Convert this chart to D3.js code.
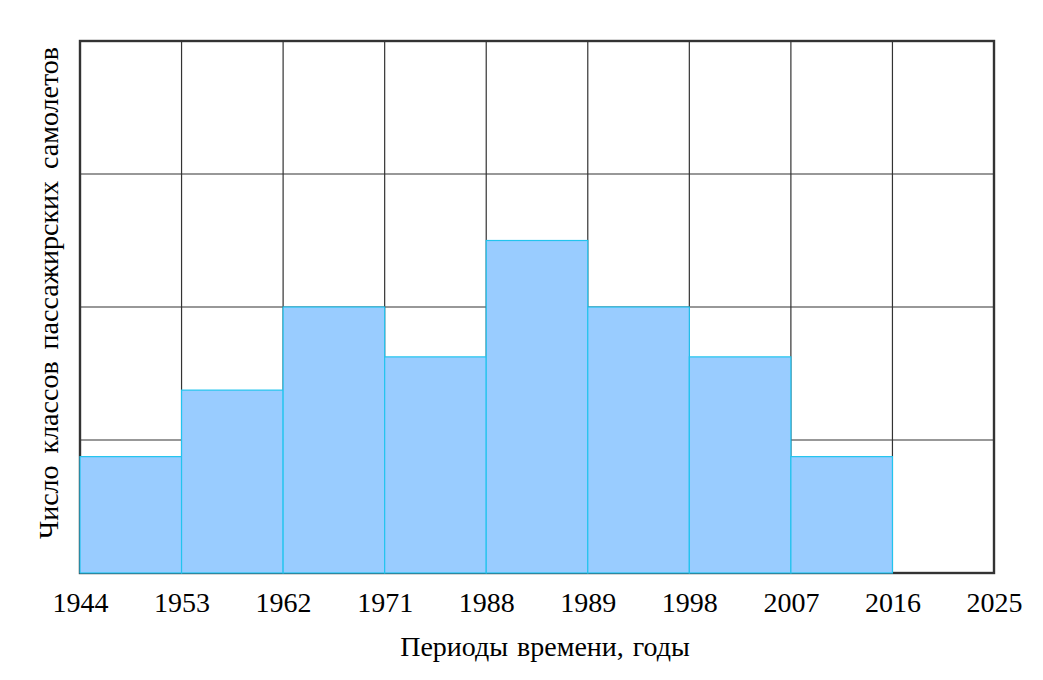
<!DOCTYPE html>
<html><head><meta charset="utf-8">
<script src="https://cdn.jsdelivr.net/npm/d3@7"></script>
<style>body{margin:0;background:#fff;} text{font-family:"Liberation Serif","Times New Roman",serif;fill:#000;}</style>
</head><body>
<svg id="c" width="1043" height="680"></svg>
<script>
const tickLabels = ["1944","1953","1962","1971","1988","1989","1998","2007","2016","2025"];
const values = [7, 11, 16, 13, 20, 16, 13, 7, 0];
const yTicks = [0, 8, 16, 24, 32];

const svg = d3.select("#c");
const L = 80, R = 994, T = 41, B = 573;
const x = d3.scaleLinear().domain([0, tickLabels.length - 1]).range([L, R]);
const y = d3.scaleLinear().domain([0, 32]).range([B, T]);

// horizontal grid
svg.append("g").selectAll("line").data(yTicks.slice(1, -1)).join("line")
  .attr("x1", L).attr("x2", R).attr("y1", d => y(d)).attr("y2", d => y(d))
  .attr("stroke", "#333").attr("stroke-width", 1.2);
// vertical grid
svg.append("g").selectAll("line").data(d3.range(1, tickLabels.length - 1)).join("line")
  .attr("x1", d => x(d)).attr("x2", d => x(d)).attr("y1", T).attr("y2", B)
  .attr("stroke", "#333").attr("stroke-width", 1.2);
// frame
svg.append("rect").attr("x", L).attr("y", T).attr("width", R - L).attr("height", B - T)
  .attr("fill", "none").attr("stroke", "#333").attr("stroke-width", 2.4);
// bars
svg.append("g").selectAll("rect").data(values).join("rect")
  .filter(d => d > 0)
  .attr("x", (d, i) => x(i)).attr("width", (d, i) => x(i + 1) - x(i))
  .attr("y", d => y(d)).attr("height", d => B - y(d))
  .attr("fill", "#99ccff").attr("stroke", "#22c4ee").attr("stroke-width", 1.2);
// x tick labels
const xAxis = d3.axisBottom(x).tickValues(d3.range(tickLabels.length))
  .tickFormat(i => tickLabels[i]).tickSize(0).tickPadding(0);
const gx = svg.append("g").attr("transform", `translate(0,${B})`).call(xAxis);
gx.select(".domain").remove();
gx.attr("font-family", null).attr("font-size", null);
gx.selectAll("text").attr("y", 0).attr("dy", 0).attr("transform", "translate(0,39)")
  .style("font-size", "28px").style("font-family", '"Liberation Serif",serif').attr("fill", "#000");
// axis titles
svg.append("text").attr("x", 545).attr("y", 656).attr("text-anchor", "middle")
  .style("font-size", "28px").style("word-spacing", "2px").text("Периоды времени, годы");
svg.append("text").attr("transform", "translate(58,293) rotate(-90)").attr("text-anchor", "middle")
  .style("font-size", "28px").style("word-spacing", "5px").text("Число классов пассажирских самолетов");
</script>
</body></html>
